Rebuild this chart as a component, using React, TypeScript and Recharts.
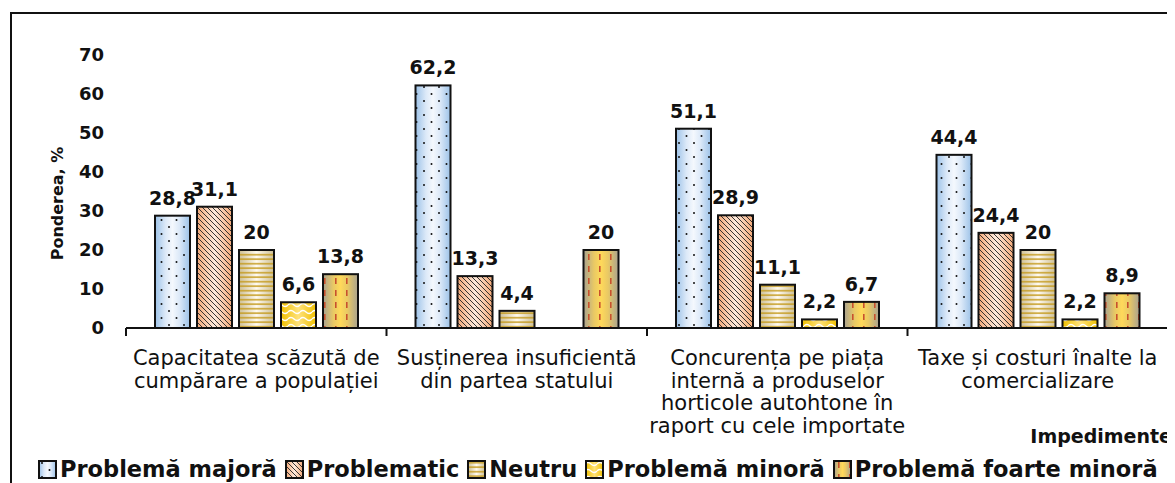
import { BarChart, Bar, XAxis, YAxis, LabelList, Label } from "recharts";

const categories = [
  "Capacitatea scăzută de\ncumpărare a populației",
  "Susținerea insuficientă\ndin partea statului",
  "Concurența pe piața\ninternă a produselor\nhorticole autohtone în\nraport cu cele importate",
  "Taxe și costuri înalte la\ncomercializare",
];
const majora = [28.8, 62.2, 51.1, 44.4];
const problematic = [31.1, 13.3, 28.9, 24.4];
const neutru = [20, 4.4, 11.1, 20];
const minora = [6.6, 0, 2.2, 2.2];
const foarteMinora = [13.8, 20, 6.7, 8.9];
const yTicks = [0, 10, 20, 30, 40, 50, 60, 70];

const series = [
  { key: "majora", name: "Problemă majoră", values: majora, grad: "g-blue", pat: "p-dots" },
  { key: "problematic", name: "Problematic", values: problematic, grad: "g-peach", pat: "p-diag" },
  { key: "neutru", name: "Neutru", values: neutru, grad: "g-tan", pat: "p-hstripe" },
  { key: "minora", name: "Problemă minoră", values: minora, grad: "g-yellow", pat: "p-wave" },
  { key: "foarteMinora", name: "Problemă foarte minoră", values: foarteMinora, grad: "g-gold", pat: "p-vdash" },
];

const data = categories.map((c, i) => {
  const row: Record<string, string | number> = { cat: c };
  series.forEach((s) => (row[s.key] = s.values[i]));
  return row;
});

const W = 1175;
const H = 483;
const MARGIN = { top: 55, right: 7, left: 0, bottom: 30 };
const Y_W = 126;
const BAND = (W - MARGIN.left - MARGIN.right - Y_W) / categories.length;
const FONT = '"DejaVu Sans", sans-serif';

const fmt = (v: any) => (v ? String(v).replace(".", ",") : "");

function Defs() {
  return (
    <defs>
      <linearGradient id="g-blue" x1="0" y1="0" x2="1" y2="0">
        <stop offset="0" stopColor="#9cc2e8" />
        <stop offset="0.3" stopColor="#dce9f8" />
        <stop offset="0.5" stopColor="#f4f8fd" />
        <stop offset="0.7" stopColor="#dce9f8" />
        <stop offset="1" stopColor="#9cc2e8" />
      </linearGradient>
      <linearGradient id="g-peach" x1="0" y1="0" x2="1" y2="0">
        <stop offset="0" stopColor="#f4a978" />
        <stop offset="0.5" stopColor="#fdeadc" />
        <stop offset="1" stopColor="#f4a978" />
      </linearGradient>
      <linearGradient id="g-tan" x1="0" y1="0" x2="1" y2="0">
        <stop offset="0" stopColor="#cdbf95" />
        <stop offset="0.5" stopColor="#fffaf0" />
        <stop offset="1" stopColor="#cdbf95" />
      </linearGradient>
      <linearGradient id="g-yellow" x1="0" y1="0" x2="1" y2="0">
        <stop offset="0" stopColor="#f0c000" />
        <stop offset="0.5" stopColor="#ffe27a" />
        <stop offset="1" stopColor="#f0c000" />
      </linearGradient>
      <linearGradient id="g-gold" x1="0" y1="0" x2="1" y2="0">
        <stop offset="0" stopColor="#a9a290" />
        <stop offset="0.3" stopColor="#e9c964" />
        <stop offset="0.5" stopColor="#ffd95a" />
        <stop offset="0.7" stopColor="#e9c964" />
        <stop offset="1" stopColor="#a9a290" />
      </linearGradient>
      <pattern id="p-dots" patternUnits="userSpaceOnUse" width="15" height="14">
        <circle cx="4" cy="3" r="1" fill="#111" />
        <circle cx="11.5" cy="10" r="1" fill="#111" />
      </pattern>
      <pattern id="p-diag" patternUnits="userSpaceOnUse" width="5" height="5">
        <path d="M0,0 L5,5 M-1,4 L1,6 M4,-1 L6,1" stroke="#222" strokeWidth="0.9" />
      </pattern>
      <pattern id="p-hstripe" patternUnits="userSpaceOnUse" width="10" height="4.5">
        <rect x="0" y="2" width="10" height="1.4" fill="#c49a1c" />
      </pattern>
      <pattern id="p-wave" patternUnits="userSpaceOnUse" width="12" height="7">
        <path d="M0,4 Q3,1 6,4 T12,4" fill="none" stroke="#fff" strokeWidth="1.3" />
      </pattern>
      <pattern id="p-vdash" patternUnits="userSpaceOnUse" width="11" height="12">
        <rect x="5" y="2" width="1.6" height="6" fill="#c8502d" />
      </pattern>
    </defs>
  );
}

const makeShape = (grad: string, pat: string) => (props: any) => {
  const { x, y, width, height } = props;
  if (!height || height <= 0) return <g />;
  return (
    <g>
      <rect x={x} y={y} width={width} height={height} fill={`url(#${grad})`} />
      <rect x={x} y={y} width={width} height={height} fill={`url(#${pat})`} />
      <rect x={x} y={y} width={width} height={height} fill="none" stroke="#111" strokeWidth={2} />
    </g>
  );
};

function CatTick(props: any) {
  const { x, y, payload, index } = props;
  const lines = String(payload.value).split("\n");
  return (
    <g>
      <line x1={x - BAND / 2} y1={y} x2={x - BAND / 2} y2={y + 8} stroke="#111" strokeWidth={2} />
      {index === categories.length - 1 && (
        <line x1={x + BAND / 2} y1={y} x2={x + BAND / 2} y2={y + 8} stroke="#111" strokeWidth={2} />
      )}
      <text x={x} y={y + 37} textAnchor="middle" fontSize={21} fill="#111" fontFamily={FONT}>
        {lines.map((l, i) => (
          <tspan key={i} x={x} dy={i === 0 ? 0 : 22.6}>
            {l}
          </tspan>
        ))}
      </text>
    </g>
  );
}

export default function App() {
  return (
    <div
      style={{
        position: "relative",
        width: W,
        height: H,
        margin: "-8px 0 0 -8px",
        fontFamily: FONT,
        background: "#fff",
        overflow: "hidden",
      }}
    >
      <div
        style={{
          position: "absolute",
          left: 10,
          top: 12,
          width: W,
          height: H,
          border: "2px solid #111",
        }}
      />
      <BarChart
        width={W}
        height={H}
        data={data}
        margin={MARGIN}
        barSize={35}
        barGap={7}
        style={{ fontFamily: FONT }}
      >
        <Defs />
        <XAxis
          dataKey="cat"
          interval={0}
          height={125}
          tickSize={0}
          tickMargin={0}
          axisLine={{ stroke: "#111", strokeWidth: 2 }}
          tickLine={false}
          tick={<CatTick />}
        />
        <YAxis
          width={Y_W}
          domain={[0, 70]}
          ticks={yTicks}
          interval={0}
          axisLine={false}
          tickLine={false}
          tickSize={0}
          tickMargin={22}
          tick={{ fill: "#111", fontSize: 18, fontWeight: "bold", fontFamily: FONT }}
        >
          <Label
            value="Ponderea, %"
            angle={-90}
            position="center"
            dx={-6}
            dy={12}
            style={{ fontSize: 16, fontWeight: "bold", fill: "#111", fontFamily: FONT }}
          />
        </YAxis>
        {series.map((s) => (
          <Bar
            key={s.key}
            dataKey={s.key}
            name={s.name}
            isAnimationActive={false}
            shape={makeShape(s.grad, s.pat)}
          >
            <LabelList
              dataKey={s.key}
              position="top"
              offset={11}
              formatter={fmt}
              style={{ fontSize: 19, fontWeight: "bold", fill: "#111", fontFamily: FONT }}
            />
          </Bar>
        ))}
      </BarChart>
      <div
        style={{
          position: "absolute",
          right: 3,
          top: 425,
          fontSize: 19,
          fontWeight: "bold",
          color: "#111",
        }}
      >
        Impedimente
      </div>
      <div
        style={{
          position: "absolute",
          left: 38,
          top: 454,
          height: 30,
          display: "flex",
          alignItems: "center",
          whiteSpace: "nowrap",
          fontSize: 22.5,
          fontWeight: "bold",
          color: "#111",
        }}
      >
        {series.map((s) => (
          <span key={s.key} style={{ display: "flex", alignItems: "center", marginRight: 8 }}>
            <svg width={19} height={19} style={{ marginRight: 3 }}>
              <rect x={1} y={1} width={17} height={17} fill={`url(#${s.grad})`} />
              <rect x={1} y={1} width={17} height={17} fill={`url(#${s.pat})`} />
              <rect x={1} y={1} width={17} height={17} fill="none" stroke="#111" strokeWidth={2} />
            </svg>
            {s.name}
          </span>
        ))}
      </div>
    </div>
  );
}
